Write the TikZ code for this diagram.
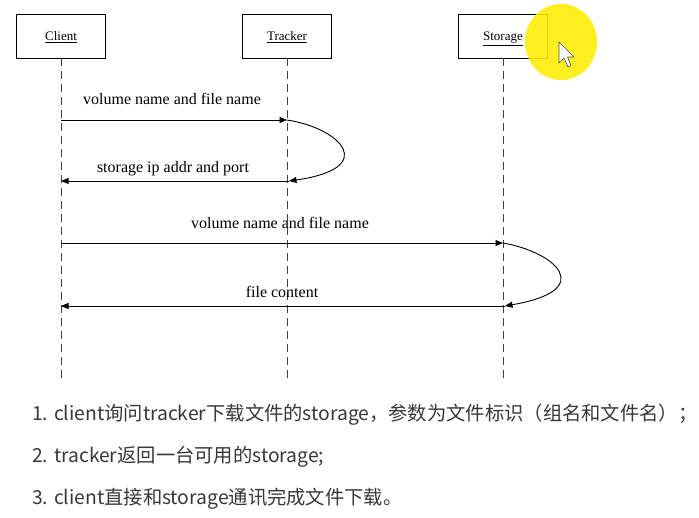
\documentclass[tikz,border=0pt]{standalone}
\usepackage{fontspec}
\setmainfont{Liberation Serif}
\newfontfamily\cjk{Noto Sans CJK SC}
\usetikzlibrary{arrows.meta}
\newcommand{\ulbl}[1]{\raisebox{-4.5pt}[0pt][0pt]{\underline{#1}}}
\begin{document}
\begin{tikzpicture}[x=1pt,y=-1pt,
  actor/.style={draw,line width=0.9pt,minimum width=89pt,minimum height=44pt,inner sep=0pt,font=\fontsize{13}{15}\selectfont},
  life/.style={draw=black!75,line width=1pt,dash pattern=on 8pt off 5pt},
  msg/.style={line width=0.9pt,-{Triangle[length=7.5pt,width=6pt]}},
  lbl/.style={font=\fontsize{16}{18}\selectfont,inner sep=0pt},
  note/.style={font=\cjk\fontsize{19.3}{22}\selectfont,text=black!78,anchor=west,inner sep=0pt}]
\useasboundingbox (0,0) rectangle (699,518);
\fill[white] (0,0) rectangle (699,518);
% actors
\node[actor] (client) at (61,36) {\ulbl{Client}};
\node[actor] (tracker) at (287,36) {\ulbl{Tracker}};
\node[actor] (storage) at (503,36) {\ulbl{Storage}};
% lifeline ends
\coordinate (cend) at (61,382);
\coordinate (tend) at (287,382);
\coordinate (send) at (503,382);
\draw[life] (client.south) -- (cend);
\draw[life] (tracker.south) -- (tend);
\draw[life] (storage.south) -- (send);
% message points
\coordinate (c1) at (61,120);
\coordinate (t1) at (287,120);
\coordinate (t2) at (289,181);
\coordinate (c2) at (61,181);
\coordinate (c3) at (61,243);
\coordinate (s3) at (503,243);
\coordinate (s4) at (505,306);
\coordinate (c4) at (61,306);
\draw[msg] (c1) -- (t1);
\draw[msg] (t1) .. controls (340,128) and (380,168) .. (t2);
\draw[msg] (t2) -- (c2);
\draw[msg] (c3) -- (s3);
\draw[msg] (s3) .. controls (555,252) and (598,290) .. (s4);
\draw[msg] (s4) -- (c4);
\node[lbl] (m1) at (172,99) {volume name and file name};
\node[lbl] (m2) at (173,169) {storage ip addr and port};
\node[lbl] (m3) at (280,223) {volume name and file name};
\node[lbl] (m4) at (282,292) {file content};
% cursor highlight
\fill[yellow!95!orange,fill opacity=0.88] (561,42) ellipse (36 and 38);
\draw[black!70,fill=white,line width=0.6pt,line join=round] (559,42) -- (559,63) -- (564,58) -- (568,67) -- (571,65.5) -- (567.5,57) -- (574,57) -- cycle;
% notes
\node[note] (n1) at (32,415) {1. client询问tracker下载文件的storage，参数为文件标识（组名和文件名）；};
\node[note] (n2) at (32,457) {2. tracker返回一台可用的storage;};
\node[note] (n3) at (32,499) {3. client直接和storage通讯完成文件下载。};
\end{tikzpicture}
\end{document}
